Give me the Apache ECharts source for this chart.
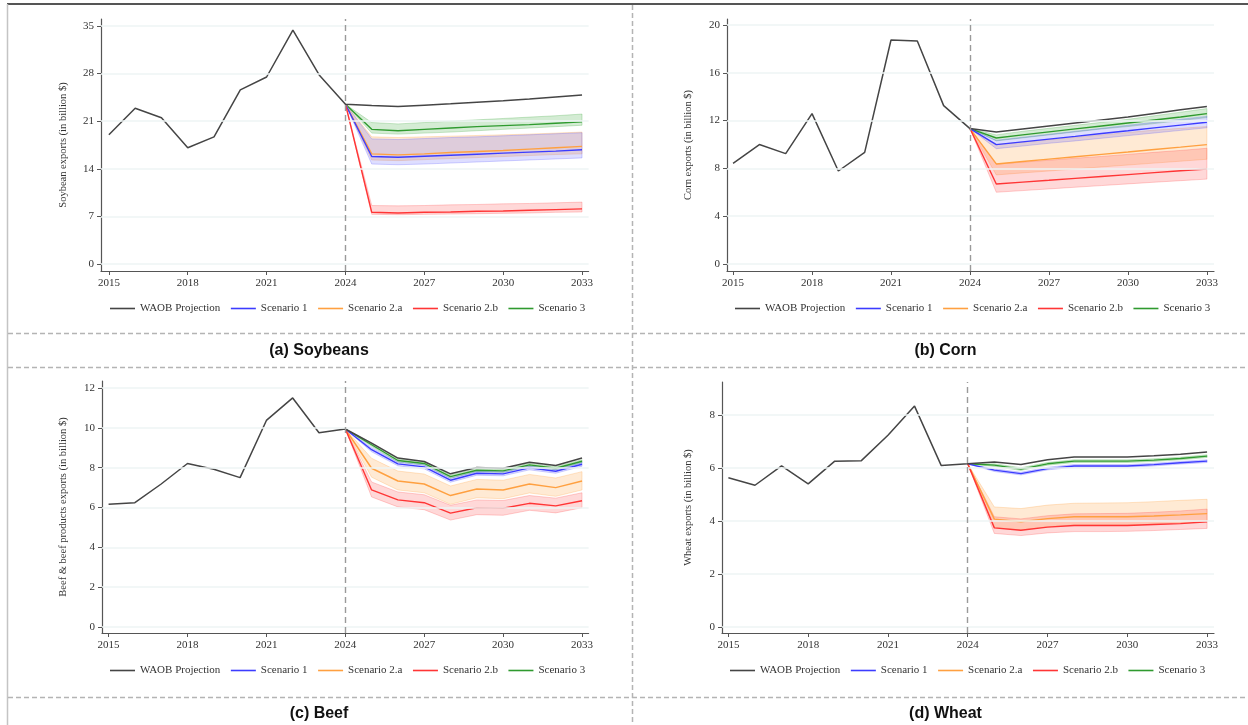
<!DOCTYPE html>
<html>
<head>
<meta charset="utf-8">
<script src="https://cdn.jsdelivr.net/npm/echarts@6/dist/echarts.min.js"></script>
<style>html,body{margin:0;padding:0;background:#fff;}#c{width:1248px;height:725px;}</style>
</head>
<body>
<div id="c"></div>
<script>
// ---------- DATA ----------
const years = [2015,2016,2017,2018,2019,2020,2021,2022,2023,2024,2025,2026,2027,2028,2029,2030,2031,2032,2033];
const projYears = [2024,2025,2026,2027,2028,2029,2030,2031,2032,2033];
const xTickYears = [2015,2018,2021,2024,2027,2030,2033];
const seriesNames = ['WAOB Projection','Scenario 1','Scenario 2.a','Scenario 2.b','Scenario 3'];
const panelTitles = ['(a) Soybeans','(b) Corn','(c) Beef','(d) Wheat'];
const yAxisTitles = ['Soybean exports (in billion $)','Corn exports (in billion $)','Beef & beef products exports (in billion $)','Wheat exports (in billion $)'];
const yTicksA = [0,7,14,21,28,35];
const yTicksB = [0,4,8,12,16,20];
const yTicksC = [0,2,4,6,8,10,12];
const yTicksD = [0,2,4,6,8];

// Soybeans
const waobA = [19.0,22.9,21.5,17.1,18.7,25.6,27.5,34.4,27.8,23.5,23.3,23.15,23.35,23.55,23.8,24.0,24.25,24.55,24.85];
const s1A   = [23.5,15.8,15.7,15.85,16.0,16.15,16.3,16.45,16.6,16.8];
const s1ALo = [23.5,14.7,14.6,14.7,14.85,15.0,15.15,15.3,15.45,15.6];
const s1AHi = [23.5,18.4,18.3,18.45,18.6,18.7,18.85,19.0,19.15,19.3];
const s2aA   = [23.5,16.2,16.05,16.2,16.4,16.55,16.7,16.9,17.1,17.3];
const s2aALo = [23.5,15.3,15.2,15.35,15.5,15.65,15.8,15.95,16.1,16.2];
const s2aAHi = [23.5,18.7,18.6,18.7,18.8,18.9,19.0,19.1,19.25,19.4];
const s2bA   = [23.5,7.6,7.5,7.6,7.65,7.75,7.8,7.9,8.0,8.1];
const s2bALo = [23.5,7.3,7.25,7.3,7.35,7.4,7.45,7.5,7.6,7.65];
const s2bAHi = [23.5,8.6,8.55,8.6,8.7,8.75,8.85,8.9,9.0,9.1];
const s3A   = [23.5,19.8,19.6,19.8,20.0,20.2,20.35,20.5,20.7,20.9];
const s3ALo = [23.5,19.25,19.1,19.25,19.4,19.6,19.8,20.0,20.2,20.4];
const s3AHi = [23.5,20.8,20.6,20.8,21.0,21.2,21.4,21.6,21.8,22.05];

// Corn
const waobB = [8.42,9.99,9.23,12.58,7.78,9.34,18.74,18.66,13.25,11.33,11.05,11.3,11.55,11.8,12.05,12.3,12.6,12.9,13.17];
const s1B   = [11.33,9.99,10.22,10.45,10.68,10.92,11.15,11.39,11.62,11.86];
const s1BLo = [11.33,9.65,9.87,10.1,10.3,10.52,10.74,10.96,11.18,11.4];
const s1BHi = [11.33,10.35,10.6,10.85,11.1,11.35,11.6,11.85,12.1,12.35];
const s2aB   = [11.33,8.37,8.57,8.77,8.97,9.17,9.37,9.58,9.78,9.99];
const s2aBLo = [11.33,7.45,7.62,7.78,7.95,8.12,8.28,8.44,8.6,8.76];
const s2aBHi = [11.33,10.0,10.2,10.4,10.6,10.8,11.0,11.2,11.35,11.5];
const s2bB   = [11.33,6.69,6.85,7.0,7.16,7.32,7.48,7.64,7.8,7.95];
const s2bBLo = [11.33,6.0,6.14,6.28,6.42,6.56,6.7,6.84,6.97,7.1];
const s2bBHi = [11.33,8.35,8.52,8.68,8.85,9.0,9.17,9.34,9.5,9.68];
const s3B   = [11.33,10.54,10.8,11.05,11.3,11.55,11.8,12.05,12.3,12.58];
const s3BLo = [11.33,10.3,10.55,10.8,11.05,11.3,11.5,11.75,12.0,12.25];
const s3BHi = [11.33,10.8,11.1,11.35,11.6,11.85,12.1,12.4,12.7,13.0];

// Beef
const waobC = [6.16,6.24,7.18,8.21,7.92,7.50,10.37,11.50,9.75,9.94,9.23,8.48,8.31,7.69,8.01,7.97,8.27,8.11,8.48];
const s1C   = [9.94,8.9,8.19,8.04,7.37,7.72,7.69,7.99,7.82,8.17];
const s1CLo = [9.94,8.8,8.09,7.94,7.27,7.62,7.59,7.89,7.72,8.07];
const s1CHi = [9.94,9.0,8.29,8.14,7.47,7.82,7.79,8.09,7.92,8.27];
const s2aC   = [9.94,7.97,7.33,7.18,6.60,6.93,6.88,7.18,7.0,7.33];
const s2aCLo = [9.94,7.52,6.88,6.74,6.16,6.49,6.44,6.73,6.56,6.88];
const s2aCHi = [9.94,8.47,7.83,7.68,7.08,7.41,7.37,7.66,7.48,7.80];
const s2bC   = [9.94,6.88,6.38,6.24,5.72,5.99,5.96,6.21,6.08,6.34];
const s2bCLo = [9.94,6.53,6.03,5.89,5.37,5.64,5.61,5.86,5.73,5.99];
const s2bCHi = [9.94,7.28,6.78,6.64,6.11,6.38,6.35,6.60,6.47,6.74];
const s3C   = [9.94,9.15,8.36,8.21,7.55,7.87,7.84,8.14,7.97,8.32];
const s3CLo = [9.94,9.07,8.28,8.13,7.47,7.79,7.76,8.06,7.89,8.24];
const s3CHi = [9.94,9.23,8.44,8.29,7.63,7.95,7.92,8.22,8.05,8.40];

// Wheat
const waobD = [5.63,5.35,6.08,5.40,6.26,6.28,7.24,8.34,6.10,6.16,6.23,6.13,6.31,6.42,6.42,6.42,6.46,6.52,6.61];
const s1D   = [6.16,5.92,5.79,5.98,6.08,6.08,6.08,6.13,6.20,6.26];
const s1DLo = [6.16,5.87,5.74,5.93,6.03,6.03,6.03,6.08,6.15,6.21];
const s1DHi = [6.16,5.97,5.84,6.03,6.13,6.13,6.13,6.18,6.25,6.31];
const s2aD   = [6.16,4.07,3.97,4.09,4.16,4.16,4.16,4.19,4.23,4.28];
const s2aDLo = [6.16,3.75,3.66,3.78,3.85,3.85,3.85,3.88,3.92,3.97];
const s2aDHi = [6.16,4.53,4.47,4.60,4.67,4.68,4.69,4.73,4.78,4.82];
const s2bD   = [6.16,3.74,3.65,3.77,3.83,3.83,3.83,3.87,3.90,3.97];
const s2bDLo = [6.16,3.53,3.45,3.55,3.60,3.60,3.61,3.64,3.68,3.72];
const s2bDHi = [6.16,4.16,4.08,4.20,4.27,4.28,4.29,4.33,4.38,4.45];
const s3D   = [6.16,6.11,5.96,6.16,6.26,6.26,6.26,6.30,6.36,6.45];
const s3DLo = [6.16,6.06,5.91,6.11,6.21,6.21,6.21,6.25,6.31,6.40];
const s3DHi = [6.16,6.16,6.01,6.21,6.31,6.31,6.31,6.35,6.41,6.50];

// ---------- STYLE / LAYOUT ----------
const COL = {waob:'#454545', s1:'#3c3cff', s2a:'#ffa040', s2b:'#ff3535', s3:'#2f9a2f'};
const FILL = {s1:'rgba(70,70,255,0.18)', s2a:'rgba(255,150,40,0.2)', s2b:'rgba(255,60,60,0.2)', s3:'rgba(40,160,40,0.2)'};
const EDGE = {s1:'rgba(70,70,255,0.3)', s2a:'rgba(255,150,40,0.3)', s2b:'rgba(255,60,60,0.3)', s3:'rgba(40,160,40,0.3)'};
const SERIF = 'Liberation Serif';

const panels = [
  {grid:{left:101, top:19, width:487.6, height:252}, xmin:2014.7, xmax:2033.25, ymin:-1.03, ymax:36.03, ticks:yTicksA, nameGap:32,
   waob:waobA, s:[[s1A,s1ALo,s1AHi],[s2aA,s2aALo,s2aAHi],[s2bA,s2bALo,s2bAHi],[s3A,s3ALo,s3AHi]], legend:{left:110, top:303}, title:[319,351]},
  {grid:{left:727, top:19, width:487, height:252}, xmin:2014.77, xmax:2033.27, ymin:-0.59, ymax:20.5, ticks:yTicksB, nameGap:33,
   waob:waobB, s:[[s1B,s1BLo,s1BHi],[s2aB,s2aBLo,s2aBHi],[s2bB,s2bBLo,s2bBHi],[s3B,s3BLo,s3BHi]], legend:{left:735, top:303}, title:[945.5,351]},
  {grid:{left:102, top:381, width:486.6, height:252}, xmin:2014.75, xmax:2033.25, ymin:-0.3, ymax:12.35, ticks:yTicksC, nameGap:33,
   waob:waobC, s:[[s1C,s1CLo,s1CHi],[s2aC,s2aCLo,s2aCHi],[s2bC,s2bCLo,s2bCHi],[s3C,s3CLo,s3CHi]], legend:{left:110, top:665}, title:[319,714]},
  {grid:{left:722, top:382, width:492, height:251}, xmin:2014.76, xmax:2033.26, ymin:-0.23, ymax:9.25, ticks:yTicksD, nameGap:28,
   waob:waobD, s:[[s1D,s1DLo,s1DHi],[s2aD,s2aDLo,s2aDHi],[s2bD,s2bDLo,s2bDHi],[s3D,s3DLo,s3DHi]], legend:{left:730, top:665}, title:[945.5,714]}
];
const keys = ['s1','s2a','s2b','s3'];

function pair(xs, ys){ return xs.map((x,i)=>[x, ys[i]]); }

const grids=[], xAxes=[], yAxes=[], series=[], legends=[], graphics=[];
panels.forEach((p, gi) => {
  grids.push(p.grid);
  xAxes.push({
    type:'value', gridIndex:gi, min:p.xmin, max:p.xmax,
    axisLine:{show:true, onZero:false, lineStyle:{color:'#555', width:1.2}},
    axisTick:{show:true, length:4, customValues:xTickYears, lineStyle:{color:'#555', width:1}},
    axisLabel:{customValues:xTickYears, formatter:v=>String(Math.round(v)), fontFamily:SERIF, fontSize:11, color:'#333', margin:7},
    splitLine:{show:false}
  });
  yAxes.push({
    type:'value', gridIndex:gi, min:p.ymin, max:p.ymax,
    name:yAxisTitles[gi], nameLocation:'middle', nameGap:p.nameGap,
    nameTextStyle:{fontFamily:SERIF, fontSize:10.5, color:'#333'},
    axisLine:{show:true, onZero:false, lineStyle:{color:'#555', width:1.2}},
    axisTick:{show:true, length:4, customValues:p.ticks, lineStyle:{color:'#555', width:1}},
    axisLabel:{customValues:p.ticks, formatter:v=>String(Math.round(v)), fontFamily:SERIF, fontSize:11, color:'#333', margin:7},
    splitLine:{show:false}
  });
  // background helper: grid lines + 2024 dashed line
  series.push({
    type:'line', name:'helper', xAxisIndex:gi, yAxisIndex:gi, z:1, silent:true,
    data:pair(years, p.waob), symbol:'none', lineStyle:{opacity:0, width:0},
    markLine:{silent:true, symbol:'none', label:{show:false}, animation:false,
      data: p.ticks.map(v=>({yAxis:v, lineStyle:{color:'#eef4f4', width:1.5, type:'solid'}}))
        .concat([{xAxis:2024, lineStyle:{color:'#9a9a9a', width:1.4, type:[6,4]}}])
    }
  });
  // bands
  [3,1,0,2].forEach(k => {
    const [mid, lo, hi] = p.s[k];
    const key = keys[k];
    series.push({
      type:'custom', name:'band', coordinateSystem:'cartesian2d', xAxisIndex:gi, yAxisIndex:gi,
      silent:true, z:2, animation:false,
      data: projYears.map((x,i)=>[x, lo[i], hi[i]]),
      encode:{x:0, y:[1,2]},
      renderItem: function(params, api){
        if (params.dataIndex !== 0) return null;
        const top = projYears.map((x,i)=>api.coord([x, hi[i]]));
        const bot = projYears.map((x,i)=>api.coord([x, lo[i]])).reverse();
        return {type:'polygon', shape:{points: top.concat(bot)}, style:{fill:FILL[key], stroke:EDGE[key], lineWidth:0.8}};
      }
    });
  });
  // scenario lines
  [3,1,0,2].forEach(k => {
    series.push({
      type:'line', name:seriesNames[k+1], xAxisIndex:gi, yAxisIndex:gi, z:3, silent:true,
      data:pair(projYears, p.s[k][0]), symbol:'none', showSymbol:false,
      lineStyle:{color:COL[keys[k]], width:1.4}, itemStyle:{color:COL[keys[k]]}
    });
  });
  // WAOB
  series.push({
    type:'line', name:'WAOB Projection', xAxisIndex:gi, yAxisIndex:gi, z:4, silent:true,
    data:pair(years, p.waob), symbol:'none', showSymbol:false,
    lineStyle:{color:COL.waob, width:1.5}, itemStyle:{color:COL.waob}
  });
  legends.push({
    data:seriesNames, left:p.legend.left, top:p.legend.top, orient:'horizontal', padding:0,
    icon:'rect', itemWidth:25, itemHeight:1.6, itemGap:10.5, selectedMode:false,
    textStyle:{fontFamily:SERIF, fontSize:11, color:'#333'}
  });
  graphics.push({type:'text', x:p.title[0], y:p.title[1], silent:true,
    style:{text:panelTitles[gi], fontFamily:'Liberation Sans', fontWeight:'bold', fontSize:16, fill:'#111', textAlign:'center', textVerticalAlign:'middle'}});
});

// borders
graphics.push({type:'line', silent:true, shape:{x1:7, y1:4, x2:1248, y2:4}, style:{stroke:'#555', lineWidth:2}});
graphics.push({type:'line', silent:true, shape:{x1:7.5, y1:4, x2:7.5, y2:725}, style:{stroke:'#c4c4c4', lineWidth:1.5}});
graphics.push({type:'line', silent:true, shape:{x1:632.5, y1:5, x2:632.5, y2:725}, style:{stroke:'#b4b4b4', lineWidth:1.5, lineDash:[5,3]}});
[333.5, 367.5, 697.5].forEach(y => {
  graphics.push({type:'line', silent:true, shape:{x1:8, y1:y, x2:1248, y2:y}, style:{stroke:'#b4b4b4', lineWidth:1.5, lineDash:[5,3]}});
});

const chart = echarts.init(document.getElementById('c'), null, {renderer:'canvas'});
chart.setOption({
  animation:false,
  backgroundColor:'#fff',
  grid:grids, xAxis:xAxes, yAxis:yAxes, series:series, legend:legends, graphic:graphics
});
</script>
</body>
</html>
